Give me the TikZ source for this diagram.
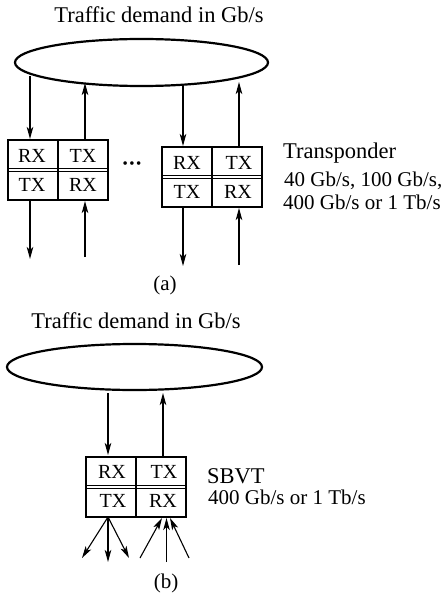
\documentclass[tikz,border=0pt]{standalone}
\usepackage{fontspec}
\setmainfont{Liberation Serif}
\usetikzlibrary{arrows.meta,shapes.geometric}
\begin{document}
\begin{tikzpicture}[x=1pt,y=-1pt,
  arr/.style={-{Stealth[length=12pt,width=6.5pt,inset=3pt]}, line width=1.1pt},
  tbox/.style={draw, line width=1.2pt, minimum width=100pt, minimum height=60pt, inner sep=0pt},
  ell/.style={draw, ellipse, line width=2.2pt, inner sep=0pt},
  cell/.style={font=\fontsize{20}{20}\selectfont, inner sep=0pt},
  big/.style={font=\fontsize{22.5}{24}\selectfont, inner sep=0pt},
  rate/.style={font=\fontsize{21}{22}\selectfont, inner sep=0pt}]
\useasboundingbox (0,0) rectangle (441,596);

% ---------- panel (a) ----------
\node[big, anchor=base] (ta) at (159,23) {Traffic demand in Gb/s};
\node[ell, minimum width=253pt, minimum height=47pt] (e1) at (141.5,62.5) {};

\node[tbox] (b1) at (58,170) {};
\draw[line width=1.2pt] (b1.north) -- (b1.south);
\draw[line width=1pt] ([yshift=1.4pt]b1.west) -- ([yshift=1.4pt]b1.east);
\draw[line width=1pt] ([yshift=-1.4pt]b1.west) -- ([yshift=-1.4pt]b1.east);
\node[cell] (rx1) at (32,156) {RX};
\node[cell] (tx1) at (83,156) {TX};
\node[cell] (tx1b) at (32,185) {TX};
\node[cell] (rx1b) at (83,185) {RX};

\node[inner sep=0pt, font=\fontsize{15}{15}\selectfont] (dots) at (132,165) {\textbullet\kern1.6pt\textbullet\kern1.6pt\textbullet};

\node[tbox] (b2) at (212,177) {};
\draw[line width=1.2pt] (b2.north) -- (b2.south);
\draw[line width=1pt] ([yshift=1.4pt]b2.west) -- ([yshift=1.4pt]b2.east);
\draw[line width=1pt] ([yshift=-1.4pt]b2.west) -- ([yshift=-1.4pt]b2.east);
\node[cell] (rx2) at (187,163) {RX};
\node[cell] (tx2) at (239,163) {TX};
\node[cell] (tx2b) at (187,192) {TX};
\node[cell] (rx2b) at (238,192) {RX};

\node[big, anchor=base west] (tr) at (283,158) {Transponder};
\node[rate, anchor=base west] (r1) at (284,186.5) {40 Gb/s, 100 Gb/s,};
\node[rate, anchor=base west] (r2) at (283,209) {400 Gb/s or 1 Tb/s};
\node[rate] (la) at (165,285) {(a)};

\coordinate (a1s) at (30,76);   \coordinate (a1e) at (30,139);
\coordinate (a2s) at (85,140);  \coordinate (a2e) at (85,83);
\coordinate (a3s) at (30,200);  \coordinate (a3e) at (30,259);
\coordinate (a4s) at (85,257);  \coordinate (a4e) at (85,201);
\draw[arr] (a1s) -- (a1e);
\draw[arr] (a2s) -- (a2e);
\draw[arr] (a3s) -- (a3e);
\draw[arr] (a4s) -- (a4e);

\coordinate (c1s) at (183,85);  \coordinate (c1e) at (183,146);
\coordinate (c2s) at (239,147); \coordinate (c2e) at (239,82);
\coordinate (c3s) at (183,207); \coordinate (c3e) at (183,266);
\coordinate (c4s) at (239,265); \coordinate (c4e) at (239,208);
\draw[arr] (c1s) -- (c1e);
\draw[arr] (c2s) -- (c2e);
\draw[arr] (c3s) -- (c3e);
\draw[arr] (c4s) -- (c4e);

% ---------- panel (b) ----------
\node[big, anchor=base] (tb) at (136,328) {Traffic demand in Gb/s};
\node[ell, minimum width=255pt, minimum height=46pt] (e2) at (134.5,367) {};

\node[tbox] (b3) at (136,487) {};
\draw[line width=1.2pt] (b3.north) -- (b3.south);
\draw[line width=1pt] ([yshift=1.4pt]b3.west) -- ([yshift=1.4pt]b3.east);
\draw[line width=1pt] ([yshift=-1.4pt]b3.west) -- ([yshift=-1.4pt]b3.east);
\node[cell] (rx3) at (112,472) {RX};
\node[cell] (tx3) at (164,472) {TX};
\node[cell] (tx3b) at (113,501) {TX};
\node[cell] (rx3b) at (163,501) {RX};

\node[big, anchor=base west] (sb) at (207,483) {SBVT};
\node[rate, anchor=base west] (r3) at (208,504) {400 Gb/s or 1 Tb/s};
\node[rate] (lb) at (166,583) {(b)};

\coordinate (d1s) at (108,393); \coordinate (d1e) at (108,455);
\coordinate (d2s) at (163,457); \coordinate (d2e) at (163,393);
\draw[arr] (d1s) -- (d1e);
\draw[arr] (d2s) -- (d2e);

\coordinate (f0) at (108,517);
\coordinate (f1) at (82,558);
\coordinate (f2) at (108,562);
\coordinate (f3) at (129,558);
\draw[arr] (f0) -- (f1);
\draw[arr] (f0) -- (f2);
\draw[arr] (f0) -- (f3);

\coordinate (g1) at (140,558); \coordinate (h1) at (162,518);
\coordinate (g2) at (166.5,562); \coordinate (h2) at (166.5,518);
\coordinate (g3) at (189,558); \coordinate (h3) at (170,518);
\draw[arr] (g1) -- (h1);
\draw[arr] (g2) -- (h2);
\draw[arr] (g3) -- (h3);
\end{tikzpicture}
\end{document}
